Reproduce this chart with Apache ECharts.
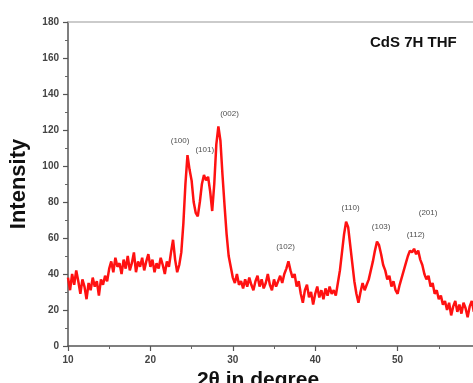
<!DOCTYPE html>
<html>
<head>
<meta charset="utf-8">
<script src="https://cdn.jsdelivr.net/npm/echarts@6/dist/echarts.min.js"></script>
<style>
  html, body { margin: 0; padding: 0; background: #fff; }
  #chart { width: 473px; height: 383px; }
</style>
</head>
<body>
<div id="chart"></div>
<script>
// XRD scan of CdS (7H, THF): intensity sampled every 0.25 deg of 2-theta, from 10 to 60 deg
const scanStart = 10;
const scanStep = 0.25;
const intensity = [
  // 10.00 - 14.75
  38, 31, 40, 34, 42, 36, 29, 37, 33, 26, 35, 31, 38, 33, 36, 28, 37, 34, 39, 36,
  // 15.00 - 19.75
  43, 47, 41, 49, 44, 46, 40, 48, 43, 50, 42, 46, 52, 41, 47, 44, 49, 42, 47, 51,
  // 20.00 - 24.75
  44, 48, 41, 46, 43, 49, 45, 40, 47, 44, 52, 59, 48, 41, 45, 52, 68, 90, 106, 98,
  // 25.00 - 29.75
  92, 80, 74, 72, 80, 90, 95, 92, 94, 86, 75, 90, 112, 122, 114, 95, 78, 62, 50, 44,
  // 30.00 - 34.75
  38, 35, 40, 34, 36, 32, 37, 33, 38, 34, 31, 36, 39, 33, 37, 32, 35, 40, 34, 31,
  // 35.00 - 39.75
  37, 33, 36, 39, 35, 40, 43, 47, 42, 38, 40, 33, 36, 29, 24, 31, 34, 27, 30, 23,
  // 40.00 - 44.75
  29, 33, 27, 31, 26, 32, 28, 33, 29, 31, 28, 35, 42, 52, 62, 69, 66, 56, 46, 36,
  // 45.00 - 49.75
  29, 24, 30, 35, 31, 34, 37, 42, 47, 53, 58, 56, 51, 45, 42, 37, 39, 33, 36, 31,
  // 50.00 - 54.75
  29, 34, 38, 42, 46, 50, 53, 52, 54, 51, 53, 48, 45, 40, 37, 39, 33, 35, 29, 31,
  // 55.00 - 60.00
  26, 28, 23, 25, 20, 24, 17, 22, 25, 19, 23, 18, 24, 21, 16, 22, 25, 19, 23, 20, 22
];

// Miller-index labels and where each sits (2-theta, intensity)
const peakNames = ['(100)', '(101)', '(002)', '(102)', '(110)', '(103)', '(112)', '(201)'];
const peakLabelAngle = [23.6, 26.6, 29.6, 36.4, 44.3, 48.0, 52.2, 53.7];
const peakLabelLevel = [114, 109, 129, 55, 77, 66, 62, 74];

const xTicks = { min: 10, max: 60, interval: 10 };
const yTicks = { min: 0, max: 180, interval: 20 };

const scan = intensity.map((v, i) => [scanStart + i * scanStep, v]);
const peakMarks = peakNames.map((n, i) => ({ value: [peakLabelAngle[i], peakLabelLevel[i]], name: n }));

const chart = echarts.init(document.getElementById('chart'), null, { renderer: 'canvas' });

const tickFont = { fontFamily: 'Liberation Sans', fontWeight: 'bold', fontSize: 10, color: '#444' };

chart.setOption({
  animation: false,
  backgroundColor: '#fff',
  grid: { left: 68, top: 22, right: -7, bottom: 37, containLabel: false, outerBoundsMode: 'none' },
  xAxis: [{
    type: 'value',
    min: xTicks.min, max: xTicks.max, interval: xTicks.interval,
    name: '2θ in degree',
    nameLocation: 'middle',
    nameGap: 24,
    nameTextStyle: { fontFamily: 'Liberation Sans', fontWeight: 'bold', fontSize: 21, color: '#111', padding: [0, 32, 0, 0], verticalAlign: 'top' },
    axisLine: { lineStyle: { color: '#555', width: 1.5 } },
    axisTick: { show: true, inside: false, length: 5, lineStyle: { color: '#555', width: 1.2 } },
    minorTick: { show: true, splitNumber: 2, length: 3, lineStyle: { color: '#666', width: 1 } },
    axisLabel: Object.assign({ margin: 9 }, tickFont),
    splitLine: { show: false }
  }, {
    type: 'value', position: 'top',
    min: xTicks.min, max: xTicks.max,
    axisLine: { show: true, onZero: false, lineStyle: { color: '#bbb', width: 1.5 } },
    axisTick: { show: false }, axisLabel: { show: false }, splitLine: { show: false }
  }],
  yAxis: {
    type: 'value',
    min: yTicks.min, max: yTicks.max, interval: yTicks.interval,
    name: 'Intensity',
    nameLocation: 'middle',
    nameGap: 38,
    nameTextStyle: { fontFamily: 'Liberation Sans', fontWeight: 'bold', fontSize: 22, color: '#111' },
    axisLine: { show: true, lineStyle: { color: '#555', width: 1.5 } },
    axisTick: { show: true, inside: false, length: 5, lineStyle: { color: '#555', width: 1.2 } },
    minorTick: { show: true, splitNumber: 2, length: 3, lineStyle: { color: '#666', width: 1 } },
    axisLabel: Object.assign({ margin: 9 }, tickFont),
    splitLine: { show: false }
  },
  series: [{
    type: 'line',
    data: scan,
    showSymbol: false,
    lineStyle: { color: '#ff1111', width: 2.5 },
    z: 3
  }, {
    type: 'scatter',
    data: peakMarks,
    symbolSize: 0,
    silent: true,
    label: {
      show: true, position: 'inside',
      formatter: p => p.name,
      fontFamily: 'Liberation Sans', fontSize: 8, color: '#222'
    },
    z: 4
  }],
  graphic: [{
    type: 'text',
    left: 370, top: 35,
    style: { text: 'CdS 7H THF', font: 'bold 15px "Liberation Sans"', fill: '#111' }
  }]
});
</script>
</body>
</html>
